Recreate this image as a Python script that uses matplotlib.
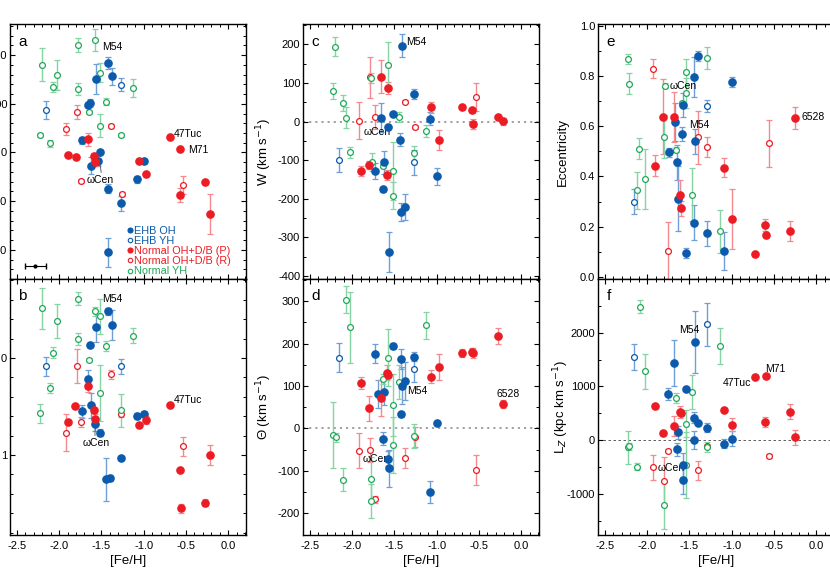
"""
Globular cluster kinematics vs. metallicity
Six panels (a-f) of orbital quantities plotted against [Fe/H].
"""
import matplotlib
matplotlib.use('Agg')
import matplotlib.pyplot as plt
from matplotlib.lines import Line2D
from matplotlib.ticker import MultipleLocator, FixedLocator

plt.rcParams['font.family'] = ['Liberation Sans', 'DejaVu Sans']
plt.rcParams['axes.unicode_minus'] = False

# Each entry: ([Fe/H], value, error)
# oh = EHB OH, yh = EHB YH, p = Normal OH+D/B (P), r = Normal OH+D/B (R), nyh = Normal YH

# Panel a
a_oh = [(-1.42, 184, 12), (-1.38, 156, 18), (-1.56, 150, 31), (-1.66, 98, 5), (-1.63, 102, 8),
        (-1.73, 25, 7), (-1.52, 1, 4), (-1.54, -17, 10), (-1.62, -27, 17), (-0.99, -18, 3),
        (-1.08, -55, 7), (-1.42, -74, 10), (-1.27, -104, 15), (-1.42, -205, 29)]
a_yh = [(-2.15, 87, 18), (-1.27, 139, 13)]
a_p = [(-1.66, 27, 14), (-1.89, -6, 3), (-1.80, -10, 3), (-1.59, -8, 7), (-1.58, -20, 7),
       (-1.06, -17, 3), (-0.97, -44, 3), (-0.69, 31, 3), (-0.57, 8, 3), (-0.57, -87, 14),
       (-0.27, -61, 3), (-0.21, -126, 41)]
a_r = [(-1.79, 83, 14), (-1.92, 48, 12), (-1.39, 55, 4), (-1.74, -59, 4), (-1.26, -85, 4),
       (-0.53, -67, 18)]
a_nyh = [(-2.20, 180, 34), (-1.78, 220, 14), (-1.57, 231, 23), (-2.02, 159, 30), (-2.07, 135, 10),
         (-1.78, 130, 13), (-1.52, 164, 19), (-1.12, 132, 18), (-1.45, 104, 7), (-1.65, 83, 5),
         (-1.52, 55, 24), (-2.22, 36, 5), (-2.11, 19, 7), (-1.27, 36, 5)]

# Panel b
b_oh = [(-1.42, -0.48, 0.035), (-1.38, -0.34, 0.15), (-1.56, -0.32, 0.16), (-1.63, -0.13, 0.02),
        (-1.66, 0.22, 0.1), (-1.73, 0.55, 0.07), (-1.62, 0.49, 0.13), (-1.57, 0.68, 0.07),
        (-1.52, 0.77, 0.035), (-1.08, 0.60, 0.03), (-0.99, 0.575, 0.03), (-1.27, 1.03, 0.02),
        (-1.44, 1.25, 0.22), (-1.40, 1.24, 0.03)]
b_yh = [(-2.15, 0.086, 0.095), (-1.27, 0.086, 0.08)]
b_p = [(-1.66, 0.29, 0.06), (-1.81, 0.50, 0.02), (-1.59, 0.54, 0.02), (-1.58, 0.63, 0.05),
       (-1.89, 0.66, 0.02), (-1.06, 0.69, 0.02), (-0.97, 0.64, 0.04), (-0.69, 0.49, 0.02),
       (-0.57, 1.15, 0.02), (-0.21, 1.00, 0.1), (-0.27, 1.49, 0.04), (-0.56, 1.55, 0.045)]
b_r = [(-1.79, 0.08, 0.175), (-1.92, 0.77, 0.19), (-1.74, 0.66, 0.05), (-1.39, 0.17, 0.05),
       (-1.27, 0.58, 0.03), (-0.53, 0.91, 0.1)]
b_nyh = [(-2.20, -0.51, 0.21), (-1.78, -0.61, 0.065), (-2.02, -0.38, 0.175), (-2.07, -0.055, 0.06),
         (-1.78, -0.195, 0.06), (-1.57, -0.48, 0.05), (-1.52, -0.43, 0.18), (-1.65, 0.02, 0.015),
         (-1.45, -0.12, 0.05), (-1.12, -0.23, 0.075), (-2.11, 0.31, 0.05), (-2.22, 0.57, 0.1),
         (-1.52, 0.36, 0.29), (-1.27, 0.54, 0.17)]

# Panel c: W (km/s)
c_oh = [(-1.41, 197, 29), (-1.66, 10, 37), (-1.52, 19, 5), (-1.58, -14, 6), (-1.27, 71, 13),
        (-1.08, 8, 17), (-1.43, -47, 17), (-1.73, -129, 21), (-1.62, -105, 30), (-1.63, -176, 7),
        (-1.00, -142, 23), (-1.42, -234, 24), (-1.38, -221, 33), (-1.56, -337, 52)]
c_yh = [(-2.15, -100, 31), (-1.27, -106, 32)]
c_p = [(-1.66, 116, 43), (-1.58, 87, 16), (-1.07, 37, 15), (-0.97, -47, 26), (-1.89, -128, 13),
       (-1.80, -113, 11), (-1.59, -138, 13), (-0.70, 39, 5), (-0.58, 29, 6), (-0.57, -6, 13),
       (-0.28, 11, 5), (-0.22, 1, 9)]
c_r = [(-1.92, 2, 48), (-1.79, 115, 53), (-1.73, 12, 30), (-1.38, 51, 4), (-1.26, -14, 4),
       (-0.54, 64, 36)]
c_nyh = [(-2.20, 194, 25), (-2.22, 79, 21), (-2.11, 48, 20), (-2.07, 10, 27), (-2.02, -80, 15),
         (-1.78, 112, 13), (-1.77, -105, 24), (-1.64, -114, 5), (-1.58, 146, 60), (-1.45, 11, 13),
         (-1.52, -128, 76), (-1.52, -192, 35), (-1.27, -82, 20), (-1.13, -24, 16)]

# Panel d: Theta (km/s)
d_oh = [(-1.52, 194, 8), (-1.73, 176, 22), (-1.42, 163, 24), (-1.27, 169, 10), (-1.38, 112, 45),
        (-1.41, 101, 43), (-1.62, 87, 31), (-1.69, 81, 33), (-1.42, 33, 6), (-1.00, 12, 5),
        (-1.63, -24, 15), (-1.57, -71, 18), (-1.56, -94, 43), (-1.08, -150, 26)]
d_yh = [(-2.15, 167, 35), (-1.27, 141, 31)]
d_p = [(-1.89, 108, 14), (-1.59, 131, 18), (-1.58, 126, 8), (-1.66, 72, 43), (-1.80, 47, 29),
       (-1.07, 122, 16), (-0.97, 144, 31), (-0.70, 177, 9), (-0.58, 181, 8), (-0.57, 178, 12),
       (-0.28, 218, 18), (-0.22, 58, 10)]
d_r = [(-1.92, -52, 42), (-1.79, -51, 29), (-1.73, -167, 8), (-1.38, -69, 24), (-1.26, -20, 24),
       (-0.54, -98, 35)]
d_nyh = [(-2.07, 303, 32), (-2.02, 238, 84), (-2.22, -15, 78), (-2.19, -21, 10), (-2.11, -121, 27),
         (-1.78, -118, 50), (-1.78, -170, 40), (-1.58, 167, 67), (-1.64, 116, 12), (-1.45, 110, 40),
         (-1.52, 55, 73), (-1.52, -39, 65), (-1.27, -18, 28), (-1.13, 243, 32)]

# Panel e: eccentricity
e_oh = [(-1.40, 0.88, 0.021), (-1.44, 0.798, 0.08), (-1.00, 0.775, 0.02), (-1.58, 0.686, 0.047),
        (-1.67, 0.618, 0.075), (-1.59, 0.57, 0.027), (-1.74, 0.496, 0.017), (-1.65, 0.457, 0.07),
        (-1.43, 0.541, 0.05), (-1.64, 0.311, 0.13), (-1.44, 0.215, 0.07), (-1.29, 0.174, 0.05),
        (-1.54, 0.093, 0.02), (-1.09, 0.104, 0.076)]
e_yh = [(-2.16, 0.30, 0.05), (-1.29, 0.68, 0.023)]
e_p = [(-1.81, 0.638, 0.15), (-1.68, 0.638, 0.1), (-1.91, 0.443, 0.043), (-1.61, 0.327, 0.06),
       (-1.60, 0.273, 0.03), (-1.09, 0.435, 0.037), (-0.99, 0.23, 0.12), (-0.72, 0.09, 0.005),
       (-0.60, 0.206, 0.025), (-0.59, 0.165, 0.01), (-0.31, 0.184, 0.04), (-0.25, 0.633, 0.042)]
e_r = [(-1.93, 0.83, 0.038), (-1.75, 0.102, 0.115), (-1.40, 0.557, 0.106), (-1.29, 0.519, 0.04),
       (-0.56, 0.532, 0.093)]
e_nyh = [(-2.23, 0.867, 0.02), (-2.21, 0.77, 0.041), (-2.09, 0.511, 0.043), (-2.12, 0.344, 0.075),
         (-2.03, 0.39, 0.12), (-1.79, 0.761, 0.01), (-1.80, 0.559, 0.086), (-1.66, 0.507, 0.01),
         (-1.59, 0.691, 0.01), (-1.54, 0.815, 0.055), (-1.54, 0.734, 0.06), (-1.47, 0.328, 0.105),
         (-1.29, 0.871, 0.044), (-1.14, 0.181, 0.086)]

# Panel f: Lz (kpc km/s)
f_oh = [(-1.43, 1826, 580), (-1.68, 1435, 435), (-1.75, 863, 110), (-1.54, 944, 30), (-1.44, 422, 100),
        (-1.40, 323, 30), (-1.29, 236, 90), (-1.64, 149, 120), (-1.44, 0, 170), (-1.65, -168, 120),
        (-1.09, -62, 80), (-1.00, 31, 140), (-1.58, -460, 220), (-1.58, -739, 250)]
f_yh = [(-2.16, 1547, 240), (-1.29, 2155, 400)]
f_p = [(-1.91, 634, 30), (-1.81, 137, 30), (-1.68, 267, 180), (-1.61, 522, 110), (-1.60, 515, 30),
       (-1.09, 559, 30), (-0.99, 292, 125), (-0.72, 1174, 30), (-0.59, 1186, 30), (-0.60, 348, 93),
       (-0.31, 528, 140), (-0.25, 56, 140)]
f_r = [(-1.93, -503, 233), (-1.75, -193, 30), (-1.80, -764, 450), (-1.40, -559, 170),
       (-1.29, -112, 30), (-0.56, -292, 30)]
f_nyh = [(-2.08, 2484, 118), (-2.03, 1280, 320), (-2.23, -130, 310), (-2.21, -112, 60),
         (-2.12, -491, 62), (-1.80, -1199, 450), (-1.66, 783, 93), (-1.54, 311, 250),
         (-1.54, -460, 620), (-1.47, 901, 320), (-1.29, -130, 90), (-1.14, 1745, 335)]

# representative [Fe/H] error shown in panel a
feh_err_demo = (-2.28, -233, 0.12)

BLUE = '#0b5aab'
RED = '#ec1c24'
GREEN = '#21a95a'
ERR = {BLUE: '#6f9fd6', RED: '#f48a8e', GREEN: '#86d3a4'}

GROUPS = [
    ('oh', 'EHB OH', BLUE, True),
    ('yh', 'EHB YH', BLUE, False),
    ('p', 'Normal OH+D/B (P)', RED, True),
    ('r', 'Normal OH+D/B (R)', RED, False),
    ('nyh', 'Normal YH', GREEN, False),
]


def draw_group(ax, pts, color, filled):
    """Draw one population with vertical error bars."""
    x = [p[0] for p in pts]
    y = [p[1] for p in pts]
    e = [p[2] for p in pts]
    ax.errorbar(x, y, yerr=e, fmt='none', ecolor=ERR[color], elinewidth=1.0,
                capsize=2.0, capthick=0.9, zorder=2)
    if filled:
        ax.plot(x, y, 'o', ms=5.2, color=color, mec=color, zorder=4, ls='none')
    else:
        ax.plot(x, y, 'o', ms=4.2, mfc='white', mec=color, mew=0.9, zorder=3, ls='none')


def style_axis(ax, bottom_labels, right_ticks=True):
    ax.set_xlim(-2.58, 0.21)
    ax.xaxis.set_major_locator(MultipleLocator(0.5))
    ax.xaxis.set_minor_locator(MultipleLocator(0.1))
    ax.tick_params(which='both', direction='in', top=True, right=right_ticks,
                   labelsize=8, pad=2)
    ax.tick_params(which='major', length=3.5, width=0.8)
    ax.tick_params(which='minor', length=2, width=0.7)
    ax.tick_params(axis='x', pad=4)
    for s in ax.spines.values():
        s.set_linewidth(1.0)
    if bottom_labels:
        ax.set_xlabel('[Fe/H]', fontsize=9.5, labelpad=3)
    else:
        ax.tick_params(axis='x', labelbottom=False)


fig = plt.figure(figsize=(8.3, 5.86), dpi=100)
W, H = 830.0, 586.0
col_left = [10, 303, 598]
row_span = [(24, 279), (279, 535)]
panel_data = {
    'a': (a_oh, a_yh, a_p, a_r, a_nyh), 'b': (b_oh, b_yh, b_p, b_r, b_nyh),
    'c': (c_oh, c_yh, c_p, c_r, c_nyh), 'd': (d_oh, d_yh, d_p, d_r, d_nyh),
    'e': (e_oh, e_yh, e_p, e_r, e_nyh), 'f': (f_oh, f_yh, f_p, f_r, f_nyh),
}
layout = {'a': (0, 0), 'b': (0, 1), 'c': (1, 0), 'd': (1, 1), 'e': (2, 0), 'f': (2, 1)}

axes = {}
for name, (ci, ri) in layout.items():
    top, bot = row_span[ri]
    ax = fig.add_axes([col_left[ci] / W, 1 - bot / H, 236 / W, (bot - top) / H])
    axes[name] = ax
    for (key, label, color, filled), pts in zip(GROUPS, panel_data[name]):
        draw_group(ax, pts, color, filled)
    # right spine of the last column sits at the canvas edge
    style_axis(ax, ri == 1, right_ticks=(ci < 2))
    ax.text(0.035, 0.93 if ri == 0 else 0.935, name, transform=ax.transAxes,
            fontsize=11, va='center', ha='left')

# y axis ranges and ticks
ax = axes['a']
ax.set_ylim(-259.5, 263.6)
ax.yaxis.set_major_locator(MultipleLocator(100))
ax.yaxis.set_minor_locator(MultipleLocator(20))
ax.errorbar([feh_err_demo[0]], [feh_err_demo[1]], xerr=[feh_err_demo[2]], fmt='o', ms=2,
            color='black', elinewidth=0.8, capsize=2, zorder=5)

ax = axes['b']
ax.set_ylim(1.825, -0.814)
ax.yaxis.set_major_locator(FixedLocator([0, 1]))
ax.yaxis.set_minor_locator(MultipleLocator(0.2))

ax = axes['c']
ax.set_ylim(-408, 253)
ax.yaxis.set_major_locator(MultipleLocator(100))
ax.yaxis.set_minor_locator(MultipleLocator(50))
ax.axhline(0, color='#9a9a9a', ls=(0, (1.2, 2.2)), lw=1.3, zorder=1)
ax.set_ylabel('W (km s$^{-1}$)', fontsize=9.5)
ax.yaxis.set_label_coords(-0.125, 0.5)

ax = axes['d']
ax.set_ylim(-251, 352)
ax.yaxis.set_major_locator(MultipleLocator(100))
ax.yaxis.set_minor_locator(MultipleLocator(50))
ax.axhline(0, color='#9a9a9a', ls=(0, (1.2, 2.2)), lw=1.3, zorder=1)
ax.set_ylabel('\u0398 (km s$^{-1}$)', fontsize=9.5)
ax.yaxis.set_label_coords(-0.125, 0.5)

ax = axes['e']
ax.set_ylim(-0.009, 1.008)
ax.yaxis.set_major_locator(MultipleLocator(0.2))
ax.yaxis.set_minor_locator(MultipleLocator(0.1))
ax.set_ylabel('Eccentricity', fontsize=9.5)
ax.yaxis.set_label_coords(-0.125, 0.5)

ax = axes['f']
ax.set_ylim(-1758, 2995)
ax.yaxis.set_major_locator(MultipleLocator(1000))
ax.yaxis.set_minor_locator(MultipleLocator(500))
ax.axhline(0, color='#444444', ls=(0, (3, 3)), lw=0.6, zorder=1)
ax.set_ylabel('L$_Z$ (kpc km s$^{-1}$)', fontsize=9.5)
ax.yaxis.set_label_coords(-0.115, 0.5)

# cluster names
lab = dict(fontsize=7.5, va='center', ha='left')
line = dict(arrowstyle='-', color='#666666', lw=0.7, shrinkA=0, shrinkB=3)
axes['a'].text(-1.49, 216, 'M54', **lab)
axes['a'].text(-0.65, 38, '47Tuc', **lab)
axes['a'].text(-0.48, 5, 'M71', **lab)
axes['a'].annotate('\u03c9Cen', xy=(-1.523, -15), xytext=(-1.68, -57), arrowprops=dict(line, relpos=(0.57, 1.0)), **lab)
axes['b'].text(-1.49, -0.61, 'M54', **lab)
axes['b'].text(-0.64, 0.43, '47Tuc', **lab)
axes['b'].annotate('\u03c9Cen', xy=(-1.574, 0.68), xytext=(-1.72, 0.88), arrowprops=dict(line, relpos=(0.45, 1.0)), **lab)
axes['c'].text(-1.36, 207, 'M54', **lab)
axes['c'].text(-1.86, -28, '\u03c9Cen', **lab)
axes['d'].annotate('M54', xy=(-1.38, 112), xytext=(-1.35, 89), arrowprops=dict(line, relpos=(0.0, 0.5)), **lab)
axes['d'].text(-0.29, 80, '6528', **lab)
axes['d'].text(-1.87, -73, '\u03c9Cen', **lab)
axes['e'].text(-1.73, 0.761, '\u03c9Cen', **lab)
axes['e'].text(-1.50, 0.606, 'M54', **lab)
axes['e'].text(-0.18, 0.637, '6528', **lab)
axes['f'].text(-1.62, 2050, 'M54', **lab)
axes['f'].text(-0.61, 1329, 'M71', **lab)
axes['f'].text(-1.11, 1056, '47Tuc', **lab)
axes['f'].text(-1.88, -515, '\u03c9Cen', **lab)

# legend in panel a with coloured labels
handles = []
for key, label, color, filled in GROUPS:
    handles.append(Line2D([], [], ls='none', marker='o', ms=3.6 if filled else 3.2,
                          mfc=color if filled else 'white', mec=color, mew=0.8, label=label))
axes['a'].legend(handles=handles, loc='lower left', bbox_to_anchor=(0.495, 0.01),
                 frameon=False, fontsize=7.8, handlelength=0.5, handletextpad=0.2,
                 labelspacing=0.02, borderpad=0, borderaxespad=0,
                 labelcolor=[g[2] for g in GROUPS])

fig.savefig('out.png', dpi=100)
